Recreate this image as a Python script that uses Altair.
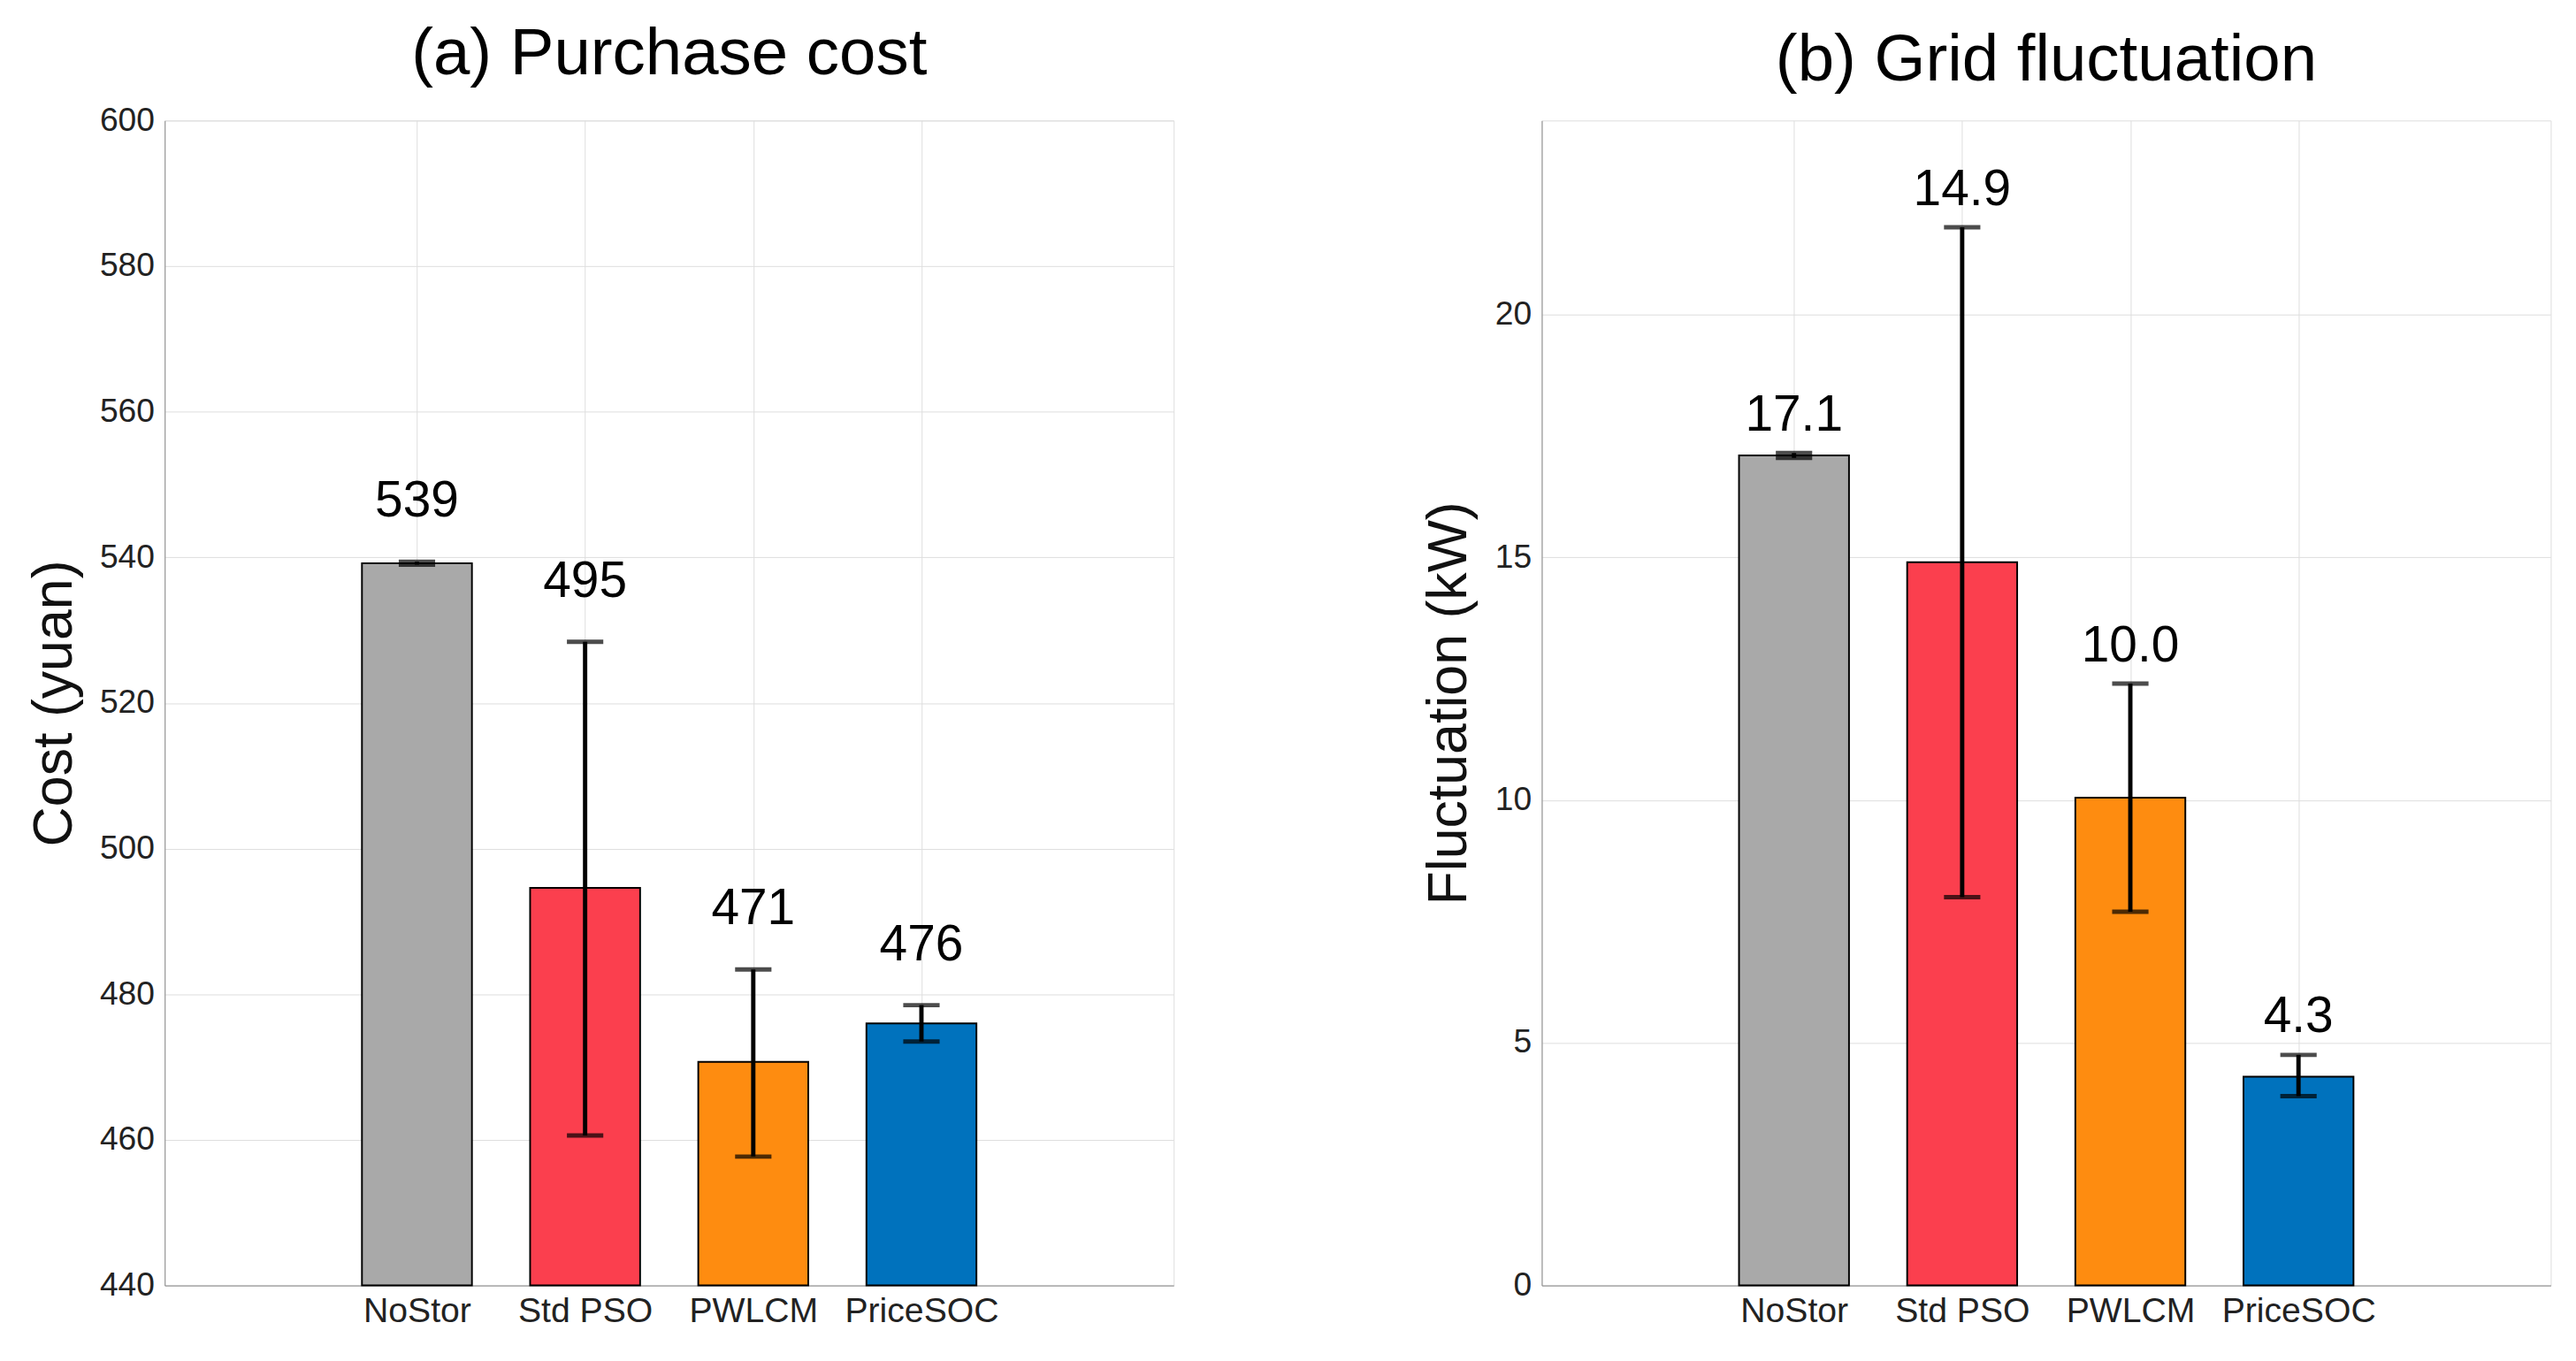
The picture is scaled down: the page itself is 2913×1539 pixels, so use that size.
import altair as alt
import pandas as pd

methods = ["NoStor", "Std PSO", "PWLCM", "PriceSOC"]
colors = ["#A9A9A9", "#FB3F4E", "#FE8C10", "#0072BD"]
pos = [1, 2, 3, 4]

cost = [539.2, 494.6, 470.7, 476.0]
cost_lo = [539.0, 460.6, 457.7, 473.5]
cost_hi = [539.4, 528.4, 483.4, 478.5]
cost_lbl = ["539", "495", "471", "476"]

fluc = [17.1, 14.9, 10.05, 4.3]
fluc_lo = [17.05, 8.0, 7.7, 3.9]
fluc_hi = [17.15, 21.8, 12.4, 4.75]
fluc_lbl = ["17.1", "14.9", "10.0", "4.3"]

FONT = "Liberation Sans"
W, H = 1165, 1345


def panel(vals, lo, hi, lbls, title, ytitle, ydom, ystep, dy, base, toff):
    df = pd.DataFrame({"m": methods, "x": pos, "v": vals, "lo": lo, "hi": hi,
                       "lbl": lbls, "base": [base] * 4})
    xenc = alt.X("x:Q", scale=alt.Scale(domain=[0, 5]),
                 axis=alt.Axis(values=pos, title=None,
                               labelExpr="['','NoStor','Std PSO','PWLCM','PriceSOC'][datum.value]",
                               labelFontSize=40, labelColor="#222", labelPadding=10,
                               tickSize=0))
    yscale = alt.Scale(domain=ydom, nice=False, zero=False)
    yaxis = alt.Axis(title=ytitle, titleFontSize=64, titleFontWeight="normal",
                     titleColor="#111", labelFontSize=38, labelColor="#222",
                     values=list(range(ydom[0], ydom[1] + 1, ystep)), tickSize=0,
                     labelPadding=12, titlePadding=20)
    c = alt.Chart(df)
    bars = c.mark_bar(size=127, stroke="black", strokeWidth=2).encode(
        x=xenc,
        y=alt.Y("v:Q", scale=yscale, axis=yaxis),
        y2="base:Q",
        color=alt.Color("m:N", scale=alt.Scale(domain=methods, range=colors), legend=None),
    )
    rule = c.mark_rule(color="black", strokeWidth=5).encode(x="x:Q", y="lo:Q", y2="hi:Q")
    cap_lo = c.mark_tick(color="black", size=42, thickness=5, orient="horizontal").encode(x="x:Q", y="lo:Q")
    cap_hi = c.mark_tick(color="black", size=42, thickness=5, orient="horizontal").encode(x="x:Q", y="hi:Q")
    text = c.mark_text(fontSize=58, dy=dy, baseline="bottom", color="black").encode(
        x="x:Q", y="hi:Q", text="lbl:N")
    return alt.layer(bars, rule, cap_lo, cap_hi, text).properties(
        width=W, height=H,
        title=alt.TitleParams(title, fontSize=76, fontWeight="normal", color="black", offset=toff),
    )


left = panel(cost, cost_lo, cost_hi, cost_lbl, "(a) Purchase cost", "Cost (yuan)",
             [440, 600], 20, -40, 440, 18)
right = panel(fluc, fluc_lo, fluc_hi, fluc_lbl, "(b) Grid fluctuation", "Fluctuation (kW)",
              [0, 24], 5, -14, 0, 30)
right = right.encode(y=alt.Y("v:Q", scale=alt.Scale(domain=[0, 24], nice=False),
                             axis=alt.Axis(values=[0, 5, 10, 15, 20])))

chart = alt.hconcat(left, right, spacing=285).configure(font=FONT).configure_view(
    stroke=None).configure_axis(
    gridColor="#d4d4d4", gridWidth=2, domainColor="#333", domainWidth=2.5).configure(
    padding={"left": 22, "top": 0, "right": 20, "bottom": 10})

chart.save("out.html", embed_options={"renderer": "svg", "actions": False})
